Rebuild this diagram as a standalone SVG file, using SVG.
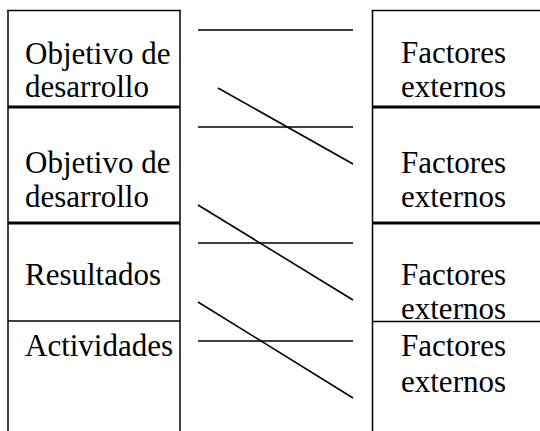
<svg xmlns="http://www.w3.org/2000/svg" width="540" height="431" viewBox="0 0 540 431">
<style>
text{font-family:'Liberation Serif','Times New Roman',serif;font-size:31px;fill:#000}
.b{stroke:#000;stroke-width:1.5;fill:none}
.k{stroke:#000;stroke-width:3;fill:none}
.c{stroke:#000;stroke-width:1.6;fill:none}
</style>
<rect width="540" height="431" fill="#fff"/>
<g id="left-column">
<line class="b" x1="8" y1="10" x2="8" y2="431"/>
<line class="b" x1="180" y1="10" x2="180" y2="431"/>
<line class="b" x1="7.25" y1="10.5" x2="180.75" y2="10.5"/>
</g>
<g id="right-column">
<line class="b" x1="372.5" y1="10" x2="372.5" y2="431"/>
<line class="b" x1="371.75" y1="10.5" x2="540" y2="10.5"/>
</g>
<g id="node-objetivo-1">
<text x="25" y="64">Objetivo de</text>
<text x="25" y="97">desarrollo</text>
<line class="k" x1="8" y1="107" x2="180" y2="107"/>
</g>
<g id="node-objetivo-2">
<text x="25" y="173">Objetivo de</text>
<text x="25" y="207">desarrollo</text>
<line class="k" x1="8" y1="223" x2="180" y2="223"/>
</g>
<g id="node-resultados">
<text x="25" y="285">Resultados</text>
<line class="b" x1="8" y1="321" x2="180" y2="321"/>
</g>
<g id="node-actividades">
<text x="25" y="356">Actividades</text>
</g>
<g id="node-factores-1">
<text x="401" y="63">Factores</text>
<text x="401" y="97">externos</text>
<line class="k" x1="372" y1="107" x2="540" y2="107"/>
</g>
<g id="node-factores-2">
<text x="401" y="173">Factores</text>
<text x="401" y="207">externos</text>
<line class="k" x1="372" y1="223" x2="540" y2="223"/>
</g>
<g id="node-factores-3">
<text x="401" y="285">Factores</text>
<text x="401" y="319">externos</text>
<line class="b" x1="372" y1="321.5" x2="540" y2="321.5"/>
</g>
<g id="node-factores-4">
<text x="401" y="356">Factores</text>
<text x="401" y="392">externos</text>
</g>
<g id="connectors">
<line class="c" x1="198" y1="30" x2="353" y2="30"/>
<line class="c" x1="218" y1="88" x2="353" y2="164"/>
<line class="c" x1="198" y1="127" x2="353" y2="127"/>
<line class="c" x1="198" y1="205" x2="353" y2="300"/>
<line class="c" x1="198" y1="243" x2="353" y2="243"/>
<line class="c" x1="198" y1="302" x2="353" y2="398"/>
<line class="c" x1="198" y1="341" x2="353" y2="341"/>
</g>
</svg>
